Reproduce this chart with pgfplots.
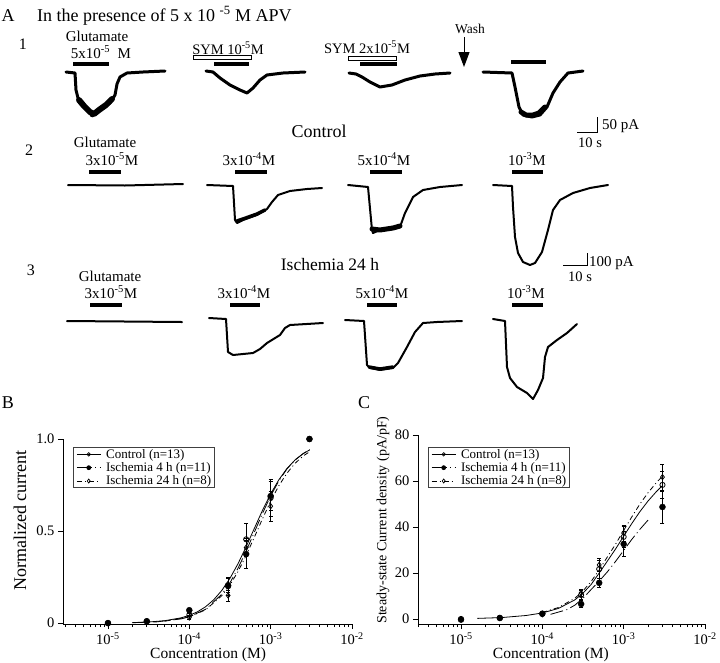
\documentclass[border=0pt]{standalone}
\usepackage{fontspec}
\setmainfont{Liberation Serif}
\usepackage{pgfplots}
\pgfplotsset{compat=1.18}
\usetikzlibrary{arrows.meta}
\newcommand\fs[1]{\fontsize{#1}{#1}\selectfont}
\newcommand\sups[1]{\textsuperscript{#1}}
\pgfplotsset{
  myTrace/.style={black, line width=2pt, line join=round, line cap=round, forget plot},
  myBar/.style={black, line width=4pt, forget plot},
  myCurve/.style={black, line width=0.8pt, forget plot},
}
\begin{document}
\begin{tikzpicture}
\useasboundingbox (0pt,0pt) rectangle (720pt,-663pt);
% ---------------- Panel A ----------------
\begin{axis}[at={(0pt,0pt)}, anchor=north west, scale only axis, width=720pt, height=663pt,
  xmin=0, xmax=720, ymin=0, ymax=663, y dir=reverse, hide axis, clip=false]
% row 1 traces
\addplot[myTrace, line width=3pt] coordinates {(66,72)(75,73)(76,90)(78,98)(82,104)(87,108)(92,116)(97,113)(103,108)(110,103)(115,95)(117,84)(120,77)(127,73)(143,72)(165,71)};
\addplot[myTrace, line width=6pt] coordinates {(79,100)(84,106)(90,112)(94,114)(99,110)(106,105)(112,99)};
\addplot[myTrace, line width=3pt] coordinates {(206,71)(213,72)(220,78)(230,85)(240,90)(247,93)(253,88)(260,80)(267,75)(283,73)(305,72)};
\addplot[myTrace, line width=3pt] coordinates {(349,73)(356,74)(362,77)(370,82)(380,87)(392,85)(405,80)(420,76)(435,74)(450,73)};
\addplot[myTrace, line width=3pt] coordinates {(483,72)(512,73)(515,87)(519,107)(523,115)(532,117)(540,115)(547,107)(553,93)(560,82)(568,73)(583,71)};
\addplot[myTrace, line width=5pt] coordinates {(521,112)(526,115)(533,115)(539,113)(545,107)};
% row 1 bars
\addplot[myBar] coordinates {(73,64)(109,64)};
\addplot[black, line width=1pt, fill=white, forget plot] coordinates {(193,55.5)(251,55.5)(251,59.5)(193,59.5)(193,55.5)};
\addplot[myBar] coordinates {(214,63.5)(249,63.5)};
\addplot[black, line width=1pt, fill=white, forget plot] coordinates {(348,56)(396,56)(396,60)(348,60)(348,56)};
\addplot[myBar] coordinates {(360,64)(397,64)};
\addplot[myBar] coordinates {(511,62)(546,62)};
% wash arrow
\addplot[black, line width=1pt, forget plot, -{Triangle[length=15pt,width=11pt]}] coordinates {(464,37)(464,67)};
% scale bar 1
\addplot[black, line width=1pt, forget plot] coordinates {(577,132)(597,132)(597,117)};
% row 2 traces
\addplot[myTrace] coordinates {(68,185)(125,185.5)(183,184)};
\addplot[myTrace] coordinates {(207,185)(233,186)(235,220)(237,223)(243,220)(257,215)(267,209)(272,202)(278,195)(290,191)(307,189)(322,188)};
\addplot[myTrace, line width=3.5pt] coordinates {(237,221)(243,219)(257,214)(265,210)};
\addplot[myTrace] coordinates {(348,185)(368,187)(372,230)(373,233)(380,230)(393,228)(400,227)(405,213)(413,197)(423,190)(440,187)(462,185)};
\addplot[myTrace, line width=5pt] coordinates {(372,229)(380,230)(393,228)(400,226)};
\addplot[myTrace] coordinates {(493,185)(512,186)(513,207)(515,237)(518,253)(523,262)(530,265)(535,263)(542,252)(548,230)(553,210)(560,200)(573,193)(590,188)(608,185)};
% row 2 bars
\addplot[myBar] coordinates {(89,172)(121,172)};
\addplot[myBar] coordinates {(235,172)(267,172)};
\addplot[myBar] coordinates {(370,172)(402,172)};
\addplot[myBar] coordinates {(512,172)(543,172)};
% scale bar 2
\addplot[black, line width=1pt, forget plot] coordinates {(563,265)(587,265)(587,253)};
% row 3 traces
\addplot[myTrace] coordinates {(67,321)(125,321.5)(182,322)};
\addplot[myTrace] coordinates {(209,318)(226,319)(228,352)(233,355)(253,353)(260,349)(267,343)(280,335)(285,328)(290,325)(323,323)};
\addplot[myTrace] coordinates {(345,320)(364,321)(367,365)(370,368)(380,370)(393,368)(398,363)(407,347)(415,332)(423,323)(437,322)(462,321)};
\addplot[myTrace, line width=3.5pt] coordinates {(369,367)(380,369)(393,367)};
\addplot[myTrace] coordinates {(493,319)(505,321)(507,367)(510,378)(517,387)(527,393)(533,399)(538,390)(543,378)(545,357)(548,347)(557,340)(567,333)(577,324)};
% row 3 bars
\addplot[myBar] coordinates {(90,305)(122,305)};
\addplot[myBar] coordinates {(230,305)(260,305)};
\addplot[myBar] coordinates {(367,305)(397,305)};
\addplot[myBar] coordinates {(512,305)(543,305)};
% texts
\node[font=\fs{18}, anchor=base] at (axis cs:8,21) {A};
\node[font=\fs{18}, anchor=base west, inner sep=0] at (axis cs:37,21) {In the presence of 5 x 10 \sups{-5} M APV};
\node[font=\fs{16}, anchor=base] at (axis cs:23,49) {1};
\node[font=\fs{15}, anchor=base] at (axis cs:97,41) {Glutamate};
\node[font=\fs{15}, anchor=base] at (axis cs:101,58) {5x10\sups{-5}~ M};
\node[font=\fs{14.5}, anchor=base] at (axis cs:228,54) {SYM 10\sups{-5}M};
\node[font=\fs{14.5}, anchor=base] at (axis cs:367,53) {SYM 2x10\sups{-5}M};
\node[font=\fs{13.5}, anchor=base] at (axis cs:470,33) {Wash};
\node[font=\fs{15}, anchor=base west, inner sep=0] at (axis cs:602,129) {50 pA};
\node[font=\fs{14.5}, anchor=base west, inner sep=0] at (axis cs:578,147) {10 s};
\node[font=\fs{18}, anchor=base] at (axis cs:319,137) {Control};
\node[font=\fs{16}, anchor=base] at (axis cs:29,155) {2};
\node[font=\fs{15}, anchor=base] at (axis cs:105,147) {Glutamate};
\node[font=\fs{15}, anchor=base] at (axis cs:112,165) {3x10\sups{-5}M};
\node[font=\fs{15}, anchor=base] at (axis cs:249,165) {3x10\sups{-4}M};
\node[font=\fs{15}, anchor=base] at (axis cs:384,165) {5x10\sups{-4}M};
\node[font=\fs{15}, anchor=base] at (axis cs:527,165) {10\sups{-3}M};
\node[font=\fs{15}, anchor=base west, inner sep=0] at (axis cs:589,266) {100 pA};
\node[font=\fs{14.5}, anchor=base west, inner sep=0] at (axis cs:568,281) {10 s};
\node[font=\fs{17.5}, anchor=base] at (axis cs:330,270) {Ischemia 24 h};
\node[font=\fs{16}, anchor=base] at (axis cs:31,275) {3};
\node[font=\fs{15}, anchor=base] at (axis cs:110,281) {Glutamate};
\node[font=\fs{15}, anchor=base] at (axis cs:111,298) {3x10\sups{-5}M};
\node[font=\fs{15}, anchor=base] at (axis cs:244,298) {3x10\sups{-4}M};
\node[font=\fs{15}, anchor=base] at (axis cs:382,298) {5x10\sups{-4}M};
\node[font=\fs{15}, anchor=base] at (axis cs:526,298) {10\sups{-3}M};
\node[font=\fs{18}, anchor=base] at (axis cs:8,408) {B};
\node[font=\fs{18}, anchor=base] at (axis cs:364,408) {C};
\end{axis}
% ---------------- Panel B ----------------
\begin{axis}[at={(63pt,-624pt)}, anchor=south west, scale only axis, width=289pt, height=185pt,
  xmode=log, axis lines*=left, tick align=outside,
  axis line style={line width=0.8pt}, tick style={black, line width=0.8pt},
  major tick length=5pt, minor tick length=3pt,
  xtick={1e-5,1e-4,1e-3,1e-2},
  xticklabels={10\sups{-5},10\sups{-4},10\sups{-3},10\sups{-2}},
  minor xtick={3e-6,4e-6,5e-6,6e-6,7e-6,8e-6,9e-6,2e-5,3e-5,4e-5,5e-5,6e-5,7e-5,8e-5,9e-5,2e-4,3e-4,4e-4,5e-4,6e-4,7e-4,8e-4,9e-4,2e-3,3e-3,4e-3,5e-3,6e-3,7e-3,8e-3,9e-3},
  tick label style={font=\fs{14.5}},
  clip=false,
  xmin=2.8e-6, xmax=1e-2, ymin=-0.005, ymax=1,
  ytick={0,0.5,1}, yticklabels={0,0.5,1.0},
  xlabel={Concentration (M)},
  ylabel={Normalized current},
  ylabel style={at={(axis description cs:-0.149,0.56)}, rotate=0, anchor=center, font=\fs{18}},
  xlabel style={at={(axis description cs:0.502,-0.168)}, anchor=center, font=\fs{15.5}},
  legend image code/.code={\draw[mark repeat=2,mark phase=2,#1] plot coordinates {(0pt,0pt) (12pt,0pt) (24pt,0pt)};},
  legend style={at={(0.035,0.955)}, anchor=north west, draw=black!75, line width=0.6pt, font=\fs{13}, inner xsep=3pt, inner ysep=1.5pt, nodes={inner sep=0pt}, row sep=2.8pt, /tikz/every odd column/.append style={column sep=5pt}},
  legend cell align=left]
\addplot[myCurve] coordinates {(1.995e-5,0.0027)(3.162e-5,0.0059)(5.012e-5,0.0131)(7.943e-5,0.0286)(1e-4,0.042)(1.259e-4,0.0613)(1.585e-4,0.0887)(1.995e-4,0.1266)(2.512e-4,0.1776)(3.162e-4,0.2433)(3.981e-4,0.3236)(5.012e-4,0.4162)(6.31e-4,0.515)(7.943e-4,0.6127)(1e-3,0.7018)(1.259e-3,0.778)(1.585e-3,0.8395)(1.995e-3,0.886)(2.512e-3,0.9206)(3.02e-3,0.941)};
\addplot[myCurve, dash pattern=on 13pt off 3.5pt on 1pt off 3.5pt] coordinates {(1.995e-5,0.0019)(3.981e-5,0.0067)(7.943e-5,0.0228)(1e-4,0.0342)(1.585e-4,0.075)(2.512e-4,0.157)(3.162e-4,0.219)(3.981e-4,0.299)(5.012e-4,0.392)(6.31e-4,0.494)(7.943e-4,0.596)(1e-3,0.691)(1.259e-3,0.772)(1.585e-3,0.837)(1.995e-3,0.886)(2.512e-3,0.921)(3.02e-3,0.942)};
\addplot[myCurve, dash pattern=on 5pt off 3pt on 1pt off 3pt] coordinates {(5.012e-5,0.0103)(1e-4,0.0337)(1.585e-4,0.072)(2.512e-4,0.149)(3.162e-4,0.207)(3.981e-4,0.281)(5.012e-4,0.369)(6.31e-4,0.467)(7.943e-4,0.567)(1e-3,0.662)(1.259e-3,0.746)(1.585e-3,0.814)(1.995e-3,0.868)(2.512e-3,0.908)(3.02e-3,0.931)};
% control
\addplot[black, only marks, forget plot, mark=o, mark size=2.6pt, mark options={fill=white, line width=0.8pt},
  error bars/.cd, y dir=both, y explicit, error bar style={line width=0.7pt, solid}, error mark options={rotate=90, mark size=2pt, line width=0.7pt}]
  table[x=c, y=v, y error=e] {
c v e
1e-5 0 0
3e-5 0.01 0
1e-4 0.045 0.01
3e-4 0.20 0.05
5e-4 0.455 0.085
1e-3 0.68 0.10
3e-3 1.0 0
};
% ischemia 24 h
\addplot[black, only marks, forget plot, mark=diamond, mark size=2.6pt, mark options={fill=white, line width=0.8pt},
  error bars/.cd, y dir=both, y explicit, error bar style={line width=0.7pt, solid}, error mark options={rotate=90, mark size=2pt, line width=0.7pt}]
  table[x=c, y=v, y error=e] {
c v e
1e-4 0.03 0.01
3e-4 0.15 0.03
5e-4 0.41 0.05
1e-3 0.635 0.08
3e-3 1.0 0
};
% ischemia 4 h
\addplot[black, only marks, forget plot, mark=*, mark size=3pt,
  error bars/.cd, y dir=both, y explicit, error bar style={line width=0.7pt, solid}, error mark options={rotate=90, mark size=2pt, line width=0.7pt}]
  table[x=c, y=v, y error=e] {
c v e
1e-5 0 0
3e-5 0.01 0
1e-4 0.07 0.01
3e-4 0.205 0.04
5e-4 0.375 0.075
1e-3 0.69 0.08
3e-3 1.0 0
};
\addlegendimage{black, line width=0.7pt, mark=o, mark size=1.7pt, mark options={fill=white}}
\addlegendentry{Control (n=13)}
\addlegendimage{black, line width=0.7pt, dash pattern=on 15pt off 3.5pt on 1pt off 3.5pt, mark=*, mark size=2pt, mark options={solid}}
\addlegendentry{Ischemia 4 h (n=11)}
\addlegendimage{black, line width=0.7pt, dash pattern=on 5pt off 3pt on 1pt off 3pt, mark=diamond, mark size=2pt, mark options={solid, fill=white}}
\addlegendentry{Ischemia 24 h (n=8)}
\end{axis}
% ---------------- Panel C ----------------
\begin{axis}[at={(418pt,-624pt)}, anchor=south west, scale only axis, width=287pt, height=189pt,
  xmode=log, axis lines*=left, tick align=outside,
  axis line style={line width=0.8pt}, tick style={black, line width=0.8pt},
  major tick length=5pt, minor tick length=3pt,
  xtick={1e-5,1e-4,1e-3,1e-2},
  xticklabels={10\sups{-5},10\sups{-4},10\sups{-3},10\sups{-2}},
  minor xtick={3e-6,4e-6,5e-6,6e-6,7e-6,8e-6,9e-6,2e-5,3e-5,4e-5,5e-5,6e-5,7e-5,8e-5,9e-5,2e-4,3e-4,4e-4,5e-4,6e-4,7e-4,8e-4,9e-4,2e-3,3e-3,4e-3,5e-3,6e-3,7e-3,8e-3,9e-3},
  tick label style={font=\fs{14.5}},
  clip=false,
  xmin=2.96e-6, xmax=1e-2, ymin=-2.2, ymax=80,
  ytick={0,20,40,60,80}, yticklabels={0,20,40,60,80},
  xlabel={Concentration (M)},
  ylabel={Steady-state Current density (pA/pF)},
  ylabel style={at={(axis description cs:-0.122,0.55)}, rotate=0, anchor=center, font=\fs{14}},
  xlabel style={at={(axis description cs:0.463,-0.164)}, anchor=center, font=\fs{15.5}},
  legend image code/.code={\draw[mark repeat=2,mark phase=2,#1] plot coordinates {(0pt,0pt) (12pt,0pt) (24pt,0pt)};},
  legend style={at={(0.035,0.935)}, anchor=north west, draw=black!75, line width=0.6pt, font=\fs{13}, inner xsep=3pt, inner ysep=1.5pt, nodes={inner sep=0pt}, row sep=2.8pt, /tikz/every odd column/.append style={column sep=5pt}},
  legend cell align=left]
\addplot[myCurve] coordinates {(1.585e-5,0.24)(3.162e-5,0.6)(6.31e-5,1.5)(1e-4,2.6)(1.585e-4,4.6)(2.512e-4,8.3)(3.162e-4,11.2)(3.981e-4,15.0)(5.012e-4,20.0)(6.31e-4,25.2)(7.943e-4,30.4)(1e-3,36.0)(1.259e-3,41.5)(1.585e-3,46.7)(1.995e-3,51.3)(2.512e-3,55.3)(3.02e-3,58.1)};
\addplot[myCurve, dash pattern=on 5pt off 3pt on 1pt off 3pt] coordinates {(1e-4,2.8)(1.585e-4,5.0)(2.512e-4,9.0)(3.162e-4,12.2)(3.981e-4,16.3)(5.012e-4,21.4)(6.31e-4,27.0)(7.943e-4,32.5)(1e-3,38.5)(1.259e-3,44.4)(1.585e-3,50.0)(1.995e-3,54.9)(2.512e-3,59.2)(3.02e-3,62.2)};
\addplot[myCurve, dash pattern=on 13pt off 3.5pt on 1pt off 3.5pt] coordinates {(1.259e-4,2.0)(1.995e-4,4.0)(2.512e-4,6.0)(3.162e-4,9.0)(3.981e-4,12.8)(5.012e-4,16.5)(6.31e-4,20.5)(7.943e-4,25.0)(1e-3,29.8)(1.259e-3,34.6)(1.585e-3,39.0)(1.995e-3,43.0)};
% control
\addplot[black, only marks, forget plot, mark=o, mark size=2.6pt, mark options={fill=white, line width=0.8pt},
  error bars/.cd, y dir=both, y explicit, error bar style={line width=0.7pt, solid}, error mark options={rotate=90, mark size=2pt, line width=0.7pt}]
  table[x=c, y=v, y error=e] {
c v e
1e-5 0 0
3e-5 0.5 0
1e-4 2.2 0.4
3e-4 10.4 2
5e-4 21.7 4
1e-3 35.7 4.5
3e-3 58.3 6
};
% ischemia 24 h
\addplot[black, only marks, forget plot, mark=diamond, mark size=2.6pt, mark options={fill=white, line width=0.8pt},
  error bars/.cd, y dir=both, y explicit, error bar style={line width=0.7pt, solid}, error mark options={rotate=90, mark size=2pt, line width=0.7pt}]
  table[x=c, y=v, y error=e] {
c v e
1e-4 2.0 0.4
3e-4 11.3 1.5
5e-4 23.5 3
1e-3 37.4 3.5
3e-3 61.7 5.7
};
% ischemia 4 h
\addplot[black, only marks, forget plot, mark=*, mark size=3pt,
  error bars/.cd, y dir=both, y explicit, error bar style={line width=0.7pt, solid}, error mark options={rotate=90, mark size=2pt, line width=0.7pt}]
  table[x=c, y=v, y error=e] {
c v e
1e-5 -0.3 0
3e-5 0.4 0
1e-4 2.3 0.5
3e-4 6.5 1.5
5e-4 15.7 2
1e-3 32.6 5.5
3e-3 48.7 7
};
\addlegendimage{black, line width=0.7pt, mark=o, mark size=1.7pt, mark options={fill=white}}
\addlegendentry{Control (n=13)}
\addlegendimage{black, line width=0.7pt, dash pattern=on 15pt off 3.5pt on 1pt off 3.5pt, mark=*, mark size=2pt, mark options={solid}}
\addlegendentry{Ischemia 4 h (n=11)}
\addlegendimage{black, line width=0.7pt, dash pattern=on 5pt off 3pt on 1pt off 3pt, mark=diamond, mark size=2pt, mark options={solid, fill=white}}
\addlegendentry{Ischemia 24 h (n=8)}
\end{axis}
\end{tikzpicture}
\end{document}
